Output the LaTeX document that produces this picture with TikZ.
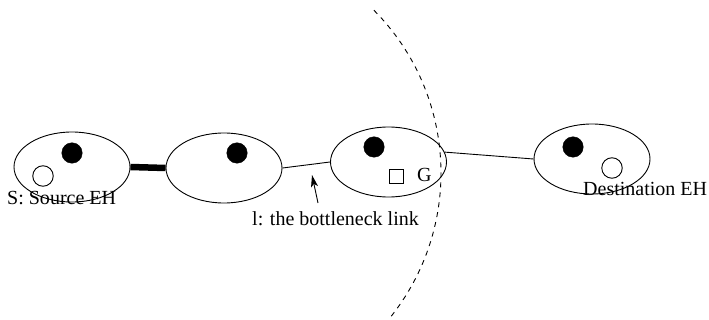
\documentclass[tikz,border=0pt]{standalone}
\usepackage{fontspec}
\setmainfont{Liberation Serif}
\usetikzlibrary{shapes.geometric,arrows.meta}
\begin{document}
\begin{tikzpicture}[x=1pt,y=1pt,
  ehbox/.style={draw,ellipse,line width=0.9pt,inner sep=0pt,
    minimum width=116pt,minimum height=70pt},
  host/.style={draw,circle,fill=black,inner sep=0pt,minimum size=20.5pt},
  endhost/.style={draw,circle,fill=white,line width=0.9pt,inner sep=0pt,minimum size=20.5pt},
  gw/.style={draw,rectangle,line width=0.9pt,inner sep=0pt,minimum size=14pt},
  lbl/.style={inner sep=0pt,font=\fontsize{20}{24}\selectfont},
  link/.style={line width=0.9pt}]
\useasboundingbox (0,0) rectangle (709,-320);

% four domains
\node[ehbox] (e1) at (72,-167) {};
\node[ehbox] (e2) at (224,-168) {};
\node[ehbox] (e3) at (388.5,-162) {};
\node[ehbox] (e4) at (592,-159) {};

% links between domains
\draw[line width=6.5pt] (e1.east) -- (e2.west);
\draw[link] (e2.east) -- (e3.west);
\draw[link] (e3.10) -- (e4.west);

% hosts inside the domains
\node[host] (h1) at (72,-153) {};
\node[endhost] (s) at (43,-176) {};
\node[host] (h2) at (237,-153) {};
\node[host] (h3) at (374,-147) {};
\node[gw] (g) at (396,-176) {};
\node[lbl,anchor=base west] (gl) at (417,-182) {G};
\node[host] (h4) at (573,-147) {};
\node[endhost] (d) at (612,-168) {};

% labels
\node[lbl,anchor=base west] (src) at (7,-205) {S: Source EH};
\node[lbl,anchor=base west] (dst) at (583,-196) {Destination EH};
\node[lbl,anchor=base west] (bl) at (252,-226) {l: the bottleneck link};

% pointer to the bottleneck link
\coordinate (ptail) at (318,-203);
\coordinate (ptip) at (312,-175);
\draw[link,-{Stealth[length=12pt,width=7pt,inset=3pt]}] (ptail) -- (ptip);

% dashed boundary arc
\draw[line width=0.9pt,dash pattern=on 5pt off 5pt]
  (210,-173) ++(44.8:231pt) arc[start angle=44.8,end angle=-39.2,radius=231pt];
\end{tikzpicture}
\end{document}
